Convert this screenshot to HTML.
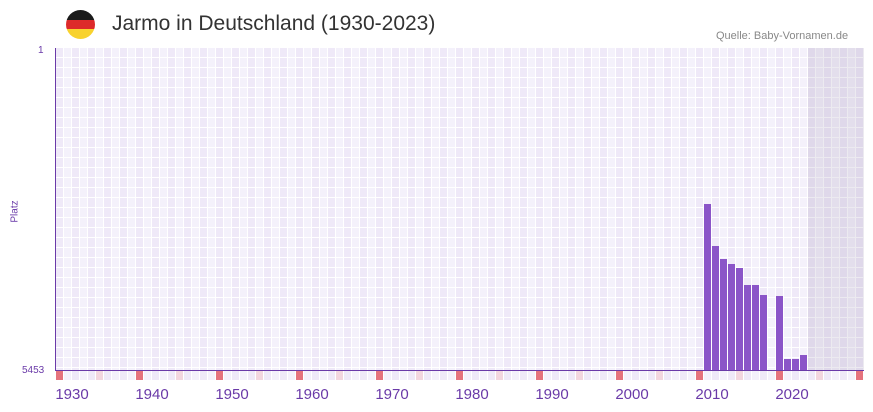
<!DOCTYPE html>
<html><head><style>
body{margin:0;width:873px;height:412px;background:#fff;font-family:"Liberation Sans",sans-serif;position:relative;overflow:hidden}
.abs{position:absolute}
#grid{left:56px;top:48px;width:808px;height:322px;
background:
repeating-linear-gradient(to bottom,transparent 0 9px,#fff 9px 10px),
repeating-linear-gradient(to right,#efe9f8 0 7px,#fff 7px 8px,#f4f1fb 8px 15px,#fff 15px 16px);}
#shade{left:808px;top:48px;width:56px;height:322px;background:rgba(150,140,170,0.18)}
.bar{position:absolute;width:7px;background:#8b55c8}
.m{position:absolute;top:371px;width:7px;height:9px}
.yr{position:absolute;top:386px;font-size:15px;color:#6a3aa8;width:50px;text-align:center}
</style></head><body>
<div class="abs" style="left:66px;top:10px;width:29px;height:29px;border-radius:50%;overflow:hidden">
<div style="height:10px;background:#1b1b1b"></div><div style="height:9px;background:#dd2a2a"></div><div style="height:10px;background:#f8d22e"></div></div>
<div class="abs" style="left:112px;top:12px;font-size:21px;color:#333">Jarmo in Deutschland (1930-2023)</div>
<div class="abs" style="left:716px;top:30px;font-size:11px;color:#888">Quelle: Baby-Vornamen.de</div>
<div class="abs" id="grid"></div>
<div class="abs" id="shade"></div>
<div class="abs" style="left:55px;top:48px;width:1px;height:323px;background:#6a3aa8"></div>
<div class="abs" style="left:55px;top:370px;width:809px;height:1px;background:#6a3aa8"></div>
<div class="abs" style="left:38px;top:45px;font-size:10px;color:#6a3aa8">1</div>
<div class="abs" style="left:22px;top:365px;font-size:10px;color:#6a3aa8">5453</div>
<div class="abs" style="left:4px;top:206px;font-size:10px;color:#6a3aa8;transform:rotate(-90deg)">Platz</div>
<div class="bar" style="left:704px;top:204px;height:166px"></div>
<div class="bar" style="left:712px;top:246px;height:124px"></div>
<div class="bar" style="left:720px;top:259px;height:111px"></div>
<div class="bar" style="left:728px;top:264px;height:106px"></div>
<div class="bar" style="left:736px;top:268px;height:102px"></div>
<div class="bar" style="left:744px;top:285px;height:85px"></div>
<div class="bar" style="left:752px;top:285px;height:85px"></div>
<div class="bar" style="left:760px;top:295px;height:75px"></div>
<div class="bar" style="left:776px;top:296px;height:74px"></div>
<div class="bar" style="left:784px;top:359px;height:11px"></div>
<div class="bar" style="left:792px;top:359px;height:11px"></div>
<div class="bar" style="left:800px;top:355px;height:15px"></div>
<div style="position:absolute;left:56px;top:371px;width:808px;height:9px;background:repeating-linear-gradient(to right,#efe9f8 0 7px,#fff 7px 8px,#f4f1fb 8px 15px,#fff 15px 16px)"></div>
<div class="m" style="left:56px;background:#e5737d"></div><div class="m" style="left:96px;background:#f3d6df"></div>
<div class="m" style="left:136px;background:#e5737d"></div><div class="m" style="left:176px;background:#f3d6df"></div>
<div class="m" style="left:216px;background:#e5737d"></div><div class="m" style="left:256px;background:#f3d6df"></div>
<div class="m" style="left:296px;background:#e5737d"></div><div class="m" style="left:336px;background:#f3d6df"></div>
<div class="m" style="left:376px;background:#e5737d"></div><div class="m" style="left:416px;background:#f3d6df"></div>
<div class="m" style="left:456px;background:#e5737d"></div><div class="m" style="left:496px;background:#f3d6df"></div>
<div class="m" style="left:536px;background:#e5737d"></div><div class="m" style="left:576px;background:#f3d6df"></div>
<div class="m" style="left:616px;background:#e5737d"></div><div class="m" style="left:656px;background:#f3d6df"></div>
<div class="m" style="left:696px;background:#e5737d"></div><div class="m" style="left:736px;background:#f3d6df"></div>
<div class="m" style="left:776px;background:#e5737d"></div><div class="m" style="left:816px;background:#f3d6df"></div>
<div class="m" style="left:856px;background:#e5737d"></div>
<div class="yr" style="left:47px">1930</div><div class="yr" style="left:127px">1940</div>
<div class="yr" style="left:207px">1950</div><div class="yr" style="left:287px">1960</div>
<div class="yr" style="left:367px">1970</div><div class="yr" style="left:447px">1980</div>
<div class="yr" style="left:527px">1990</div><div class="yr" style="left:607px">2000</div>
<div class="yr" style="left:687px">2010</div><div class="yr" style="left:767px">2020</div>
</body></html>
